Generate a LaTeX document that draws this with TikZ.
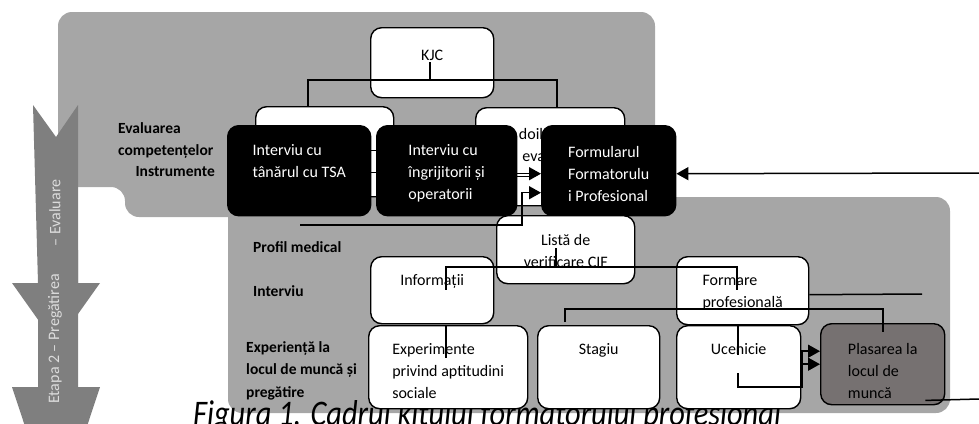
\documentclass[tikz,border=0pt]{standalone}
\usepackage{fontspec}
\setmainfont{Carlito}
\usepackage{tikz}
\usetikzlibrary{arrows.meta}

\definecolor{panelgray}{HTML}{A6A6A6}
\definecolor{arrowgray}{HTML}{7F7F7F}
\definecolor{placegray}{HTML}{767171}
\definecolor{arrowtext}{HTML}{DCDCDC}

% lines of a box, first baseline on top
\newcommand{\ml}[1]{\begin{tabular}[t]{@{}l@{}}#1\end{tabular}}
\newcommand{\mc}[1]{\begin{tabular}[t]{@{}c@{}}#1\end{tabular}}

\begin{document}
\begin{tikzpicture}[
        x=1pt, y=-1pt,
        box/.style={draw, line width=1.4pt, rounded corners=11pt, fill=white, anchor=north west,
            inner xsep=4pt, inner ysep=0pt, text height=30pt,
            font=\fontsize{16}{21.7}\selectfont},
        lbl/.style={inner sep=0pt, anchor=base west, font=\fontsize{15.5}{22.5}\selectfont\bfseries}
        ]
    % Define styles
    \tikzstyle{blackbox} = [box, fill=black, text=white]
    \tikzstyle{conn} = [line width=1.5pt]
    \tikzstyle{tip} = [-{Triangle[length=12pt,width=13pt]}]

    \useasboundingbox (0,0) rectangle (979,423);

    % Background panels
    \fill[panelgray, rounded corners=14pt] (58,187) -- (58,12) -- (655,12) -- (655,217) -- (125,217) -- (125,187) -- cycle;
    \fill[panelgray, rounded corners=14pt] (228,197) rectangle (950,413);

    % Stage arrow on the left
    \fill[arrowgray] (38,250) -- (78,250) -- (78,387) -- (100,387) -- (56,520) -- (12,387) -- (38,387) -- cycle;
    \fill[arrowgray] (33,105) -- (56,137) -- (78,105) -- (78,283) -- (100,283) -- (56,345) -- (12,283) -- (38,283) -- cycle;
    \node[rotate=90, text=arrowtext, font=\fontsize{16}{19}\selectfont] (prep) at (55,339) {Etapa 2 – Pregătirea};
    \node[rotate=90, text=arrowtext, font=\fontsize{16}{19}\selectfont] (evalst) at (55,213) {– Evaluare};

    % Caption
    \node[anchor=base west, inner sep=0pt, xscale=0.845, font=\fontsize{36}{40}\selectfont\itshape] (capt) at (193,425) {Figura 1. Cadrul kitului formatorului profesional};

    % Row labels
    \node[lbl] (evallbl) at (118,133) {\ml{Evaluarea\\competențelor}};
    \node[lbl, anchor=base east] (instrlbl) at (215,176) {Instrumente};
    \node[lbl] (medlbl) at (253,252) {Profil medical};
    \node[lbl] (intlbl) at (253,296) {Interviu};
    \node[lbl] (explbl) at (246,352) {\ml{Experiență la\\locul de muncă și\\pregătire}};

    % Assessment nodes
    \node[box, minimum width=123pt, text height=33pt, text depth=37pt] (kjc) at (370,27) {KJC};
    \node[box, minimum width=138pt, text depth=60pt] (prim) at (255,106) {};
    \node[box, text width=99pt, inner xsep=25pt, text height=32pt, text depth=66pt] (doilea) at (475,107) {\ml{Al doilea\\de evaluare}};

    % KJC tree
    \coordinate (kjcstem) at (430,62);
    \coordinate (primtop) at (308,106);
    \coordinate (doileatop) at (557,107);
    \draw[conn] (kjcstem) -- ++(0,18) -| (primtop);
    \draw[conn] (kjcstem) -- ++(0,18) -| (doileatop);

    % Instrument nodes
    \node[blackbox, minimum width=143pt, text depth=60pt] (intv1) at (227,125) {\ml{Interviu cu\\tânărul cu TSA}};
    \node[blackbox, minimum width=140pt, text depth=60pt] (intv2) at (376,125) {\ml{Interviu cu\\îngrijitorii și\\operatorii}};
    \node[blackbox, minimum width=134pt, text height=32pt, text depth=58pt] (form) at (541,125) {\ml{Formularul\\Formatorulu\\i Profesional}};

    % Lower panel nodes
    \node[box, minimum width=138pt, text depth=38pt] (lista) at (496,215) {\mc{Listă de\\verificare CIF}};
    \node[box, minimum width=123pt, text height=29pt, text depth=38pt] (info) at (370,256) {Informații};
    \node[box, minimum width=132pt, text height=29pt, text depth=39pt] (formare) at (676,256) {\ml{Formare\\profesională}};
    \node[box, minimum width=159pt, text height=29pt, text depth=54pt] (exper) at (368,325) {\ml{Experimente\\privind aptitudini\\sociale}};
    \node[box, minimum width=122pt, text height=29pt, text depth=54pt] (stagiu) at (537,325) {Stagiu};
    \node[box, minimum width=124pt, text height=29pt, text depth=54pt] (ucen) at (676,325) {Ucenicie};
    \node[box, fill=placegray, minimum width=124pt, text height=31pt, text depth=50pt] (plas) at (820,323) {\ml{Plasarea la\\locul de\\muncă}};

    % Instrument connectors
    \draw[conn] ([yshift=20pt]intv1.east) -- ([yshift=20pt]intv2.west);
    \draw[conn] ([yshift=-2pt]intv1.east) -- ([yshift=-2pt]intv2.west);
    \draw[conn, tip] ([yshift=-3pt]intv2.east) -- ([yshift=-3pt]form.west);
    \draw[conn] ([yshift=-6pt]intv2.east) -- ([yshift=-6pt,xshift=-8pt]form.west);
    \coordinate (medln) at (300,225);
    \draw[conn, tip] (medln) -| ([xshift=-19pt,yshift=-22pt]form.west) -- ([yshift=-22pt]form.west);
    \coordinate (rightin) at (979,173);
    \draw[conn, tip] (rightin) -- ([yshift=-3pt]form.east);

    % Lower panel connectors
    \coordinate (listastem) at (556,248);
    \coordinate (infoln) at (446,290);
    \coordinate (formln) at (737,290);
    \draw[conn] (listastem) -- ++(0,19) -| (infoln);
    \draw[conn] (listastem) -- ++(0,19) -| (formln);
    \coordinate (formright) at (922,294);
    \draw[conn] ([yshift=-4pt]formare.east) -- (formright);
    \coordinate (stagtop) at (565,322);
    \coordinate (plastop) at (883,332);
    \draw[conn] (stagtop) -- ++(0,-13) -| (plastop);
    \coordinate (expstem) at (446,358);
    \draw[conn] (exper.north -| expstem) -- (expstem);
    \coordinate (ucenstem) at (738,355);
    \draw[conn] (ucen.north -| ucenstem) -- (ucenstem);
    \coordinate (ucenbot) at (738,373);
    \draw[conn, tip] (ucenbot) -- ++(0,14) -| ([xshift=-18pt]plas.west) -- (plas.west);
    \draw[conn, tip] ([xshift=-18pt]plas.west) |- ([yshift=13pt]plas.west);
    \coordinate (plasout) at (979,399);
    \draw[conn] ([shift={(-20pt,5pt)}]plas.south east) -- (plasout);

\end{tikzpicture}
\end{document}
